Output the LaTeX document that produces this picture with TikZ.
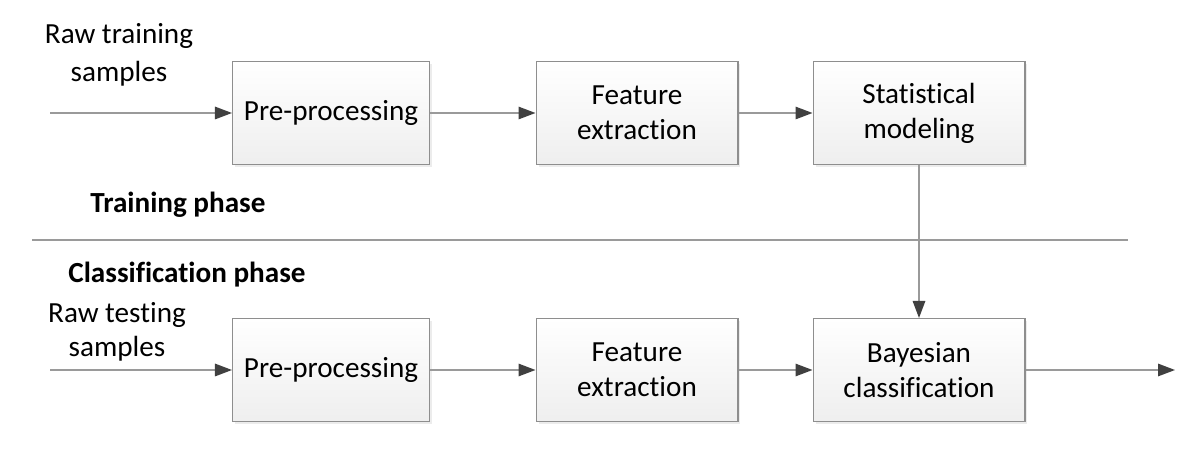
\documentclass[tikz,border=0pt]{standalone}
\usepackage{fontspec}
\setmainfont[Ligatures=NoCommon]{Carlito}
\usetikzlibrary{arrows.meta,shadows}
\definecolor{edge}{HTML}{8E8E8E}
\definecolor{line}{HTML}{9A9A9A}
\definecolor{tip}{HTML}{404040}
\tikzstyle{block} = [draw=edge, line width=0.6pt, top color=white, bottom color=gray!13,
	minimum height=2.06cm, text centered, align=center, inner sep=2pt,
	font=\fontsize{16.6}{20}\selectfont,
	drop shadow={shadow xshift=0.05cm, shadow yshift=-0.05cm, fill=gray!25, opacity=0.6}]
\tikzstyle{flow} = [draw=line, line width=0.8pt, -{Triangle[length=0.34cm, width=0.25cm, color=tip]}]
\tikzstyle{phase} = [anchor=west, inner sep=0pt, font=\fontsize{16.6}{20}\selectfont\bfseries]
\tikzstyle{src} = [align=center, inner sep=0pt]

\begin{document}
\begin{tikzpicture}[x=0.02cm, y=-0.02cm]
\useasboundingbox (0,0) rectangle (1200,472);

\node[src, font=\fontsize{16.6}{21.5}\selectfont] (rawtrain) at (119,55) {Raw training\\samples};
\node[block, minimum width=3.94cm] (pretrain) at (331,113) {Pre-processing};
\node[block, minimum width=4.04cm] (feattrain) at (637,113) {Feature\\extraction};
\node[block, minimum width=4.24cm] (model) at (919,113) {Statistical\\modeling};

\node[phase] (trainphase) at (90,205) {Training phase};
\draw[line, line width=0.8pt] (32,240) -- (1128,240);
\node[phase] (classphase) at (68,275) {Classification phase};

\node[src, font=\fontsize{16.6}{19}\selectfont] (rawtest) at (117,332) {Raw testing\\samples};
\node[block, minimum width=3.94cm] (pretest) at (331,370) {Pre-processing};
\node[block, minimum width=4.04cm] (feattest) at (637,370) {Feature\\extraction};
\node[block, minimum width=4.24cm] (bayes) at (919,370) {Bayesian\\classification};

\coordinate (intrain) at (50,113);
\coordinate (intest) at (50,370);
\coordinate (result) at (1175,370);

\draw[flow] (intrain) -- (pretrain);
\draw[flow] (pretrain) -- (feattrain);
\draw[flow] (feattrain) -- (model);
\draw[flow] (model) -- (bayes);
\draw[flow] (intest) -- (pretest);
\draw[flow] (pretest) -- (feattest);
\draw[flow] (feattest) -- (bayes);
\draw[flow] (bayes) -- (result);
\end{tikzpicture}
\end{document}
